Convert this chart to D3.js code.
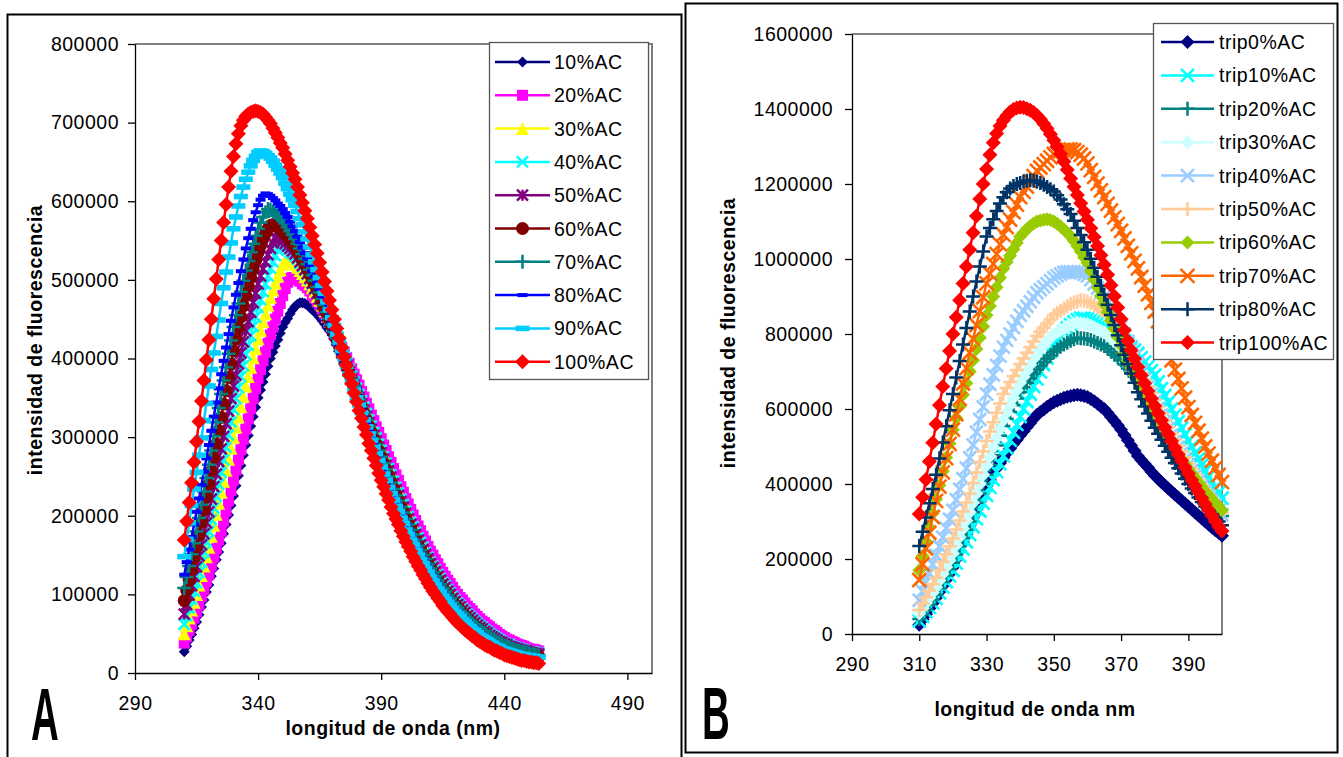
<!DOCTYPE html>
<html>
<head>
<meta charset="utf-8">
<script src="https://cdn.jsdelivr.net/npm/d3@7"></script>
<style>
body { margin: 0; background: #fff; }
text { font-family: "Liberation Sans", Arial, sans-serif; }
</style>
</head>
<body>
<script>

// ---------- panel A data (intensity in thousands) ----------
var nmA = [310,311,312,313,314,315,316,317,318,319,320,321,322,323,324,325,326,327,328,329,
330,331,332,333,334,335,336,337,338,339,340,341,342,343,344,345,346,347,348,349,
350,351,352,353,354,355,356,357,358,359,360,361,362,363,364,365,366,367,368,369,
370,371,372,373,374,375,376,377,378,379,380,381,382,383,384,385,386,387,388,389,
390,391,392,393,394,395,396,397,398,399,400,401,402,403,404,405,406,407,408,409,
410,411,412,413,414,415,416,417,418,419,420,421,422,423,424,425,426,427,428,429,
430,431,432,433,434,435,436,437,438,439,440,441,442,443,444,445,446,447,448,449,
450,451,452,453,454];

var namesA = ["10%AC","20%AC","30%AC","40%AC","50%AC","60%AC","70%AC","80%AC","90%AC","100%AC"];

var ac10 = [27,34,42,49,57,65,74,84,93,103,112,123,133,144,154,165,177,189,201,213,
225,238,251,264,277,290,302,314,326,338,350,360,370,380,390,400,408,416,424,432,
440,446,451,457,462,466,469,471,471,470,468,465,462,459,456,452,448,444,439,435,
430,424,418,412,406,400,393,386,379,372,365,358,350,343,335,328,320,313,305,298,
290,282,275,267,260,252,245,238,230,223,216,209,202,196,189,182,176,170,163,157,
151,146,140,135,129,124,119,114,110,105,100,96,92,88,84,80,77,74,70,67,
64,61,59,56,54,51,49,47,44,42,40,38,37,35,34,32,31,29,28,26,
25,24,23,22,21];
var ac20 = [38,46,54,62,70,78,87,97,106,116,125,136,147,158,169,180,193,206,219,232,
245,258,271,284,297,310,323,336,349,362,375,386,397,408,419,430,440,450,460,470,
480,489,497,502,503,502,500,498,495,493,490,486,481,477,472,468,463,457,452,446,
440,434,427,421,414,408,401,394,387,380,373,366,358,351,343,336,328,321,313,306,
298,290,283,275,268,260,252,245,237,230,222,215,208,201,194,187,181,174,168,161,
155,150,144,139,133,128,123,118,114,109,104,100,96,93,89,85,82,79,75,72,
69,66,64,61,59,56,54,52,49,47,45,43,42,40,39,37,36,35,34,32,
31,30,30,29,28];
var ac30 = [50,60,70,80,90,100,112,124,136,148,160,174,188,202,216,230,244,258,272,286,
300,313,326,339,352,365,377,389,401,413,425,436,447,457,468,478,487,496,505,513,
520,524,526,525,523,520,516,512,508,504,500,495,490,485,479,474,468,461,454,448,
441,434,426,419,411,404,396,388,380,373,365,357,349,342,334,326,318,310,303,295,
287,279,271,264,256,248,240,233,225,218,210,203,196,189,182,175,169,163,156,150,
144,139,134,128,123,118,113,109,104,100,95,91,88,84,81,77,74,71,68,65,
62,60,57,55,52,50,48,46,44,42,40,39,37,36,34,33,32,31,30,29,
28,28,27,27,26];
var ac40 = [62,73,83,94,104,115,128,141,154,167,180,195,210,225,240,255,271,287,303,319,
335,349,363,377,391,405,417,429,441,453,465,475,485,495,505,515,523,531,538,544,
543,541,538,535,533,530,526,521,517,512,507,501,495,489,483,477,470,462,455,448,
441,433,425,418,410,402,394,386,378,370,362,354,346,338,330,322,314,306,299,291,
283,275,267,260,252,244,236,229,221,214,206,199,192,186,179,172,166,160,153,147,
141,136,131,125,120,115,111,106,102,97,93,89,86,82,79,75,72,69,66,63,
60,58,55,53,50,48,46,44,42,40,38,37,36,34,33,32,31,30,29,28,
27,27,26,26,25];
var ac50 = [75,87,99,111,123,135,149,163,177,191,205,221,237,253,269,285,301,317,333,349,
365,379,393,407,421,435,447,459,471,483,495,505,514,523,532,540,547,553,552,551,
549,546,543,540,537,533,528,523,518,513,508,502,496,489,483,476,469,462,454,447,
439,431,423,415,407,399,391,383,374,366,358,350,342,334,326,318,310,302,295,287,
280,272,264,257,249,241,233,226,218,211,203,196,189,183,176,169,163,157,151,145,
139,134,129,123,118,113,109,104,100,95,91,87,84,80,77,73,70,67,64,61,
58,56,53,51,48,46,44,42,40,39,37,36,34,33,32,31,30,29,28,28,
27,26,25,25,24];
var ac60 = [92,105,118,132,146,160,176,192,208,224,240,257,274,291,308,325,342,359,376,393,
410,425,439,453,467,480,492,503,514,525,535,544,552,559,565,569,570,569,567,565,
562,558,554,550,546,542,537,531,526,520,514,507,500,494,487,480,472,464,457,449,
441,433,424,416,407,399,390,382,373,365,356,348,339,331,322,314,306,298,291,283,
275,267,259,251,243,235,227,220,212,205,197,190,183,177,170,163,157,151,146,140,
134,129,124,118,113,108,104,100,95,91,87,83,80,76,73,69,66,63,60,58,
55,53,50,48,45,43,41,39,37,36,34,33,32,30,29,28,27,26,25,24,
23,23,22,22,21];
var ac70 = [108,122,136,151,165,180,197,214,231,248,265,283,301,319,337,355,372,389,406,423,
440,455,470,485,499,512,524,535,546,556,565,573,580,586,590,589,587,585,582,579,
576,572,567,562,557,552,546,540,533,527,520,513,506,499,491,484,476,468,459,451,
443,434,426,417,409,400,391,382,374,365,356,348,339,331,322,314,306,298,291,283,
275,267,259,250,242,234,226,219,211,204,196,189,182,176,169,162,156,150,145,139,
133,128,123,118,113,108,104,99,95,90,86,83,79,76,72,69,66,63,60,58,
55,53,51,48,46,44,42,40,38,37,35,34,33,31,30,29,28,27,27,26,
25,24,24,23,22];
var ac80 = [125,141,157,173,189,205,222,239,256,273,290,308,326,344,362,380,397,414,431,448,
465,481,496,511,526,540,553,565,576,586,595,602,607,610,609,607,604,601,597,594,
590,585,580,574,568,562,555,548,541,534,527,519,511,504,496,488,479,471,462,454,
445,436,426,417,407,398,389,380,370,361,352,343,335,326,318,309,301,293,286,278,
270,262,253,245,236,228,220,213,205,198,190,183,177,170,164,157,151,145,140,134,
128,123,118,113,108,103,99,95,90,86,82,79,75,72,68,65,62,59,57,54,
51,49,47,44,42,40,38,36,34,33,31,30,29,28,27,26,25,24,23,23,
22,22,21,21,20];
var ac90 = [148,170,191,213,234,255,277,299,321,343,365,386,407,428,449,470,490,510,529,547,
565,580,594,606,618,628,637,645,652,657,662,664,663,661,658,655,651,646,641,636,
630,623,616,609,602,595,587,578,570,561,552,542,532,523,513,503,493,483,472,462,
452,442,431,421,410,400,390,380,370,360,350,341,331,322,313,304,296,287,279,270,
262,253,245,236,228,220,212,205,197,190,182,176,169,163,156,150,144,139,133,128,
122,117,112,107,103,98,94,90,86,82,78,75,72,68,65,62,59,56,54,51,
48,46,44,42,40,38,36,34,33,31,30,29,28,27,26,25,24,23,23,22,
22,21,21,20,20];
var ac100 = [169,193,217,242,268,294,320,346,372,398,424,450,476,501,526,550,573,596,618,638,
657,673,686,696,703,708,711,713,714,715,714,713,711,707,703,699,693,687,681,674,
668,660,652,644,636,628,618,608,598,588,578,567,556,545,534,522,510,498,486,474,
462,450,438,426,414,402,391,379,368,356,345,334,324,313,303,292,283,273,264,254,
245,237,228,220,211,203,196,189,181,174,167,161,155,148,142,136,131,125,120,114,
109,104,100,95,91,86,82,78,75,71,67,64,61,58,55,52,50,47,45,42,
40,38,36,34,33,31,29,28,26,25,23,22,21,20,19,18,17,16,16,15,
14,14,13,13,12];

var xTicksA = [290,340,390,440,490];
var yTicksA = [0,100,200,300,400,500,600,700,800];
var yLabelsA = ["0","100000","200000","300000","400000","500000","600000","700000","800000"];

// ---------- panel B data (intensity in thousands) ----------
var nmB = [310,311,312,313,314,315,316,317,318,319,320,321,322,323,324,325,326,327,328,329,
330,331,332,333,334,335,336,337,338,339,340,341,342,343,344,345,346,347,348,349,
350,351,352,353,354,355,356,357,358,359,360,361,362,363,364,365,366,367,368,369,
370,371,372,373,374,375,376,377,378,379,380,381,382,383,384,385,386,387,388,389,
390,391,392,393,394,395,396,397,398,399,400];

var namesB = ["trip0%AC","trip10%AC","trip20%AC","trip30%AC","trip40%AC","trip50%AC","trip60%AC","trip70%AC","trip80%AC","trip100%AC"];

var trip0 = [25,39,53,68,82,97,113,129,145,161,178,200,222,245,267,290,311,332,353,374,
395,411,427,442,456,470,483,495,507,518,530,541,552,563,574,585,592,599,606,612,
618,622,626,630,633,635,637,638,637,635,632,627,621,614,607,600,590,579,568,557,
545,531,517,503,489,475,464,454,444,433,423,414,405,397,388,380,372,364,356,348,
340,332,324,316,308,300,292,285,277,270,262];
var trip10 = [35,47,59,71,83,95,110,125,140,155,170,189,208,227,246,265,286,307,328,349,
370,391,412,433,454,475,496,517,538,559,580,600,620,640,660,680,699,718,736,753,
770,783,795,806,816,825,832,838,842,842,840,837,833,829,825,820,815,809,803,797,
790,782,774,765,757,748,737,725,713,702,690,672,654,636,618,600,583,566,549,532,
515,499,483,467,451,435,420,406,391,377,362];
var trip20 = [40,53,66,79,92,105,122,139,156,173,190,212,234,256,278,300,325,350,375,400,
425,451,477,503,529,555,574,592,610,628,645,658,670,682,694,705,715,725,734,743,
752,759,766,772,777,782,786,790,789,788,787,784,780,776,772,768,761,753,745,738,
730,719,708,697,686,675,662,649,636,623,610,596,582,568,554,540,525,510,495,480,
465,450,435,420,405,390,375,360,345,330,315];
var trip30 = [55,69,83,97,111,125,143,161,179,197,215,237,259,281,303,325,350,375,400,425,
450,474,498,522,546,570,590,610,630,650,670,686,702,718,734,750,760,770,780,790,
800,805,810,815,820,825,828,830,829,828,826,822,818,813,809,805,797,789,781,773,
765,752,739,726,713,700,684,668,652,636,620,604,588,572,556,540,524,508,492,476,
460,446,432,418,404,390,377,364,351,338,325];
var trip40 = [90,114,138,162,186,210,234,258,282,306,330,358,386,414,442,470,504,538,572,606,
640,666,691,716,741,765,783,800,817,834,850,862,874,886,898,910,918,926,934,942,
950,955,960,964,966,966,966,965,963,959,955,945,934,922,911,900,884,868,852,836,
820,800,780,760,740,720,700,680,660,640,620,602,584,566,548,530,514,498,482,466,
450,436,422,408,394,380,368,355,343,330,318];
var trip50 = [64,81,98,116,133,150,171,192,213,234,255,279,303,327,351,375,403,431,459,487,
515,540,565,590,615,640,656,672,688,704,720,735,750,765,780,795,806,817,828,839,
850,856,862,868,874,880,884,887,890,889,887,882,876,871,865,860,848,836,824,812,
800,783,766,749,732,715,697,679,661,643,625,607,589,571,553,535,519,503,487,471,
455,441,427,413,399,385,372,360,347,335,322];
var trip60 = [170,208,246,284,322,360,397,434,471,508,545,576,607,638,669,700,730,760,790,820,
850,875,900,925,950,975,992,1009,1026,1043,1060,1070,1080,1088,1095,1100,1103,1105,1106,1104,
1100,1094,1087,1079,1070,1060,1048,1034,1020,1005,990,968,946,924,902,880,858,836,814,792,
770,750,730,710,690,670,653,636,619,602,585,569,553,537,521,505,492,479,466,453,
440,428,416,404,392,380,370,360,350,340,330];
var trip70 = [144,186,228,270,312,355,393,431,469,507,545,586,627,668,709,750,787,824,861,898,
935,961,987,1013,1039,1065,1085,1105,1125,1145,1165,1179,1193,1207,1221,1235,1244,1253,1262,1271,
1280,1284,1288,1291,1292,1292,1290,1285,1278,1268,1255,1237,1219,1201,1183,1165,1147,1129,1111,1093,
1075,1055,1035,1015,995,975,952,929,906,883,860,834,808,782,756,730,705,680,655,630,
605,584,563,542,521,500,481,462,443,424,405];
var trip80 = [235,273,311,349,387,425,468,511,554,597,640,684,728,772,816,860,900,940,980,1020,
1060,1083,1106,1128,1148,1165,1178,1188,1195,1200,1203,1207,1209,1210,1209,1207,1203,1198,1192,1186,
1180,1170,1159,1146,1133,1120,1102,1083,1064,1045,1025,1001,977,953,929,905,878,851,824,797,
770,745,720,695,670,645,626,607,588,569,550,534,518,502,486,470,456,442,428,414,
400,388,376,364,352,340,330,320,310,300,290];
var trip100 = [320,365,412,460,510,560,610,660,708,755,800,845,890,935,980,1025,1070,1115,1160,1200,
1240,1278,1310,1335,1355,1370,1382,1392,1399,1403,1405,1404,1401,1397,1391,1383,1373,1361,1348,1333,
1317,1299,1280,1260,1238,1215,1193,1171,1149,1127,1105,1082,1059,1035,1010,985,958,930,901,871,
840,810,782,757,734,712,690,669,648,628,608,589,570,551,533,515,497,479,462,445,
428,411,395,379,363,347,331,316,301,287,275];

var xTicksB = [290,310,330,350,370,390];
var yTicksB = [0,200,400,600,800,1000,1200,1400,1600];
var yLabelsB = ["0","200000","400000","600000","800000","1000000","1200000","1400000","1600000"];


// SVG
var svg = d3.select("body").append("svg")
	.attr("width", 1343)
	.attr("height", 757);

svg.append("rect").attr("width", 1343).attr("height", 757).attr("fill", "#fff");

// marker shapes like excel
function markerPath(type, s) {
	var h = s / 2;
	if (type == "diamond") return "M0," + (-h) + "L" + h + ",0L0," + h + "L" + (-h) + ",0Z";
	if (type == "square") return "M" + (-h) + "," + (-h) + "h" + s + "v" + s + "h" + (-s) + "Z";
	if (type == "triangle") return "M0," + (-h) + "L" + h + "," + h + "L" + (-h) + "," + h + "Z";
	if (type == "circle") return d3.symbol(d3.symbolCircle, Math.PI * h * h)();
	if (type == "x") return "M" + (-h) + "," + (-h) + "L" + h + "," + h + "M" + (-h) + "," + h + "L" + h + "," + (-h);
	if (type == "plus") return "M" + (-h) + ",0H" + h + "M0," + (-h) + "V" + h;
	if (type == "star") return "M" + (-h) + "," + (-h) + "L" + h + "," + h + "M" + (-h) + "," + h + "L" + h + "," + (-h) + "M0," + (-h) + "V" + h;
	if (type == "dash") return "M" + (-h) + "," + (-s * 0.2) + "h" + s + "v" + (s * 0.4) + "h" + (-s) + "Z";
}
function isStroked(type) {
	return type == "x" || type == "plus" || type == "star";
}
function addMarker(sel, s) {
	sel.attr("d", markerPath(s.marker, s.size))
		.attr("fill", isStroked(s.marker) ? "none" : s.color)
		.attr("stroke", isStroked(s.marker) ? s.color : "none")
		.attr("stroke-width", 2.5);
}

var seriesA = [
	{name: namesA[0], values: ac10, color: "#000080", marker: "diamond", size: 11},
	{name: namesA[1], values: ac20, color: "#ff00ff", marker: "square", size: 11},
	{name: namesA[2], values: ac30, color: "#ffff00", marker: "triangle", size: 13},
	{name: namesA[3], values: ac40, color: "#00ffff", marker: "x", size: 11},
	{name: namesA[4], values: ac50, color: "#800080", marker: "star", size: 11},
	{name: namesA[5], values: ac60, color: "#800000", marker: "circle", size: 13},
	{name: namesA[6], values: ac70, color: "#008080", marker: "plus", size: 14},
	{name: namesA[7], values: ac80, color: "#0000ff", marker: "dash", size: 10},
	{name: namesA[8], values: ac90, color: "#00ccff", marker: "dash", size: 14},
	{name: namesA[9], values: ac100, color: "#ff0000", marker: "diamond", size: 15}
];

var seriesB = [
	{name: namesB[0], values: trip0, color: "#000080", marker: "diamond", size: 14},
	{name: namesB[1], values: trip10, color: "#00ffff", marker: "x", size: 13},
	{name: namesB[2], values: trip20, color: "#008080", marker: "plus", size: 14},
	{name: namesB[3], values: trip30, color: "#ccffff", marker: "diamond", size: 14},
	{name: namesB[4], values: trip40, color: "#99ccff", marker: "x", size: 13},
	{name: namesB[5], values: trip50, color: "#ffcc99", marker: "plus", size: 14},
	{name: namesB[6], values: trip60, color: "#99cc00", marker: "diamond", size: 14},
	{name: namesB[7], values: trip70, color: "#ff6600", marker: "x", size: 14},
	{name: namesB[8], values: trip80, color: "#003366", marker: "plus", size: 14},
	{name: namesB[9], values: trip100, color: "#ff0000", marker: "diamond", size: 15}
];

function drawPanel(p) {
	var x = d3.scaleLinear().domain(p.xDomain).range([p.left, p.right]);
	var y = d3.scaleLinear().domain(p.yDomain).range([p.bottom, p.top]);

	// grey border of the plot area (top + right)
	svg.append("path")
		.attr("d", "M" + p.left + "," + p.top + "H" + p.right + "V" + p.bottom)
		.attr("fill", "none")
		.attr("stroke", "#808080")
		.attr("stroke-width", 2);

	// series: line first, then markers on each point
	var line = d3.line().x(function (d) { return x(d.nm); }).y(function (d) { return y(d.v); });
	p.series.forEach(function (s) {
		var pts = s.values.map(function (v, i) { return {nm: p.nm[i], v: v}; });
		var g = svg.append("g");
		g.append("path").datum(pts)
			.attr("d", line)
			.attr("fill", "none")
			.attr("stroke", s.color)
			.attr("stroke-width", 2.5);
		g.selectAll("path.mk")
			.data(pts)
			.enter().append("path")
			.attr("class", "mk")
			.attr("transform", function (d) { return "translate(" + x(d.nm) + "," + y(d.v) + ")"; })
			.call(addMarker, s);
	});

	// axes
	var yAxis = d3.axisLeft(y).tickValues(p.yTicks).tickSize(7).tickSizeOuter(0).tickPadding(p.yPad)
		.tickFormat(function (d, i) { return p.yLabels[i]; });
	var xAxis = d3.axisBottom(x).tickValues(p.xTicks).tickSize(7).tickSizeOuter(0).tickPadding(16)
		.tickFormat(function (d) { return String(d); });

	var gy = svg.append("g").attr("transform", "translate(" + p.left + ",0)").call(yAxis);
	var gx = svg.append("g").attr("transform", "translate(0," + p.bottom + ")").call(xAxis);
	[gx, gy].forEach(function (g) {
		g.attr("font-family", null).attr("font-size", null);
		g.selectAll("path, line").attr("stroke", "#000").attr("stroke-width", 1.3);
		g.selectAll("text").attr("fill", "#000")
			.style("font-size", "19.5px")
			.style("letter-spacing", "0.5px");
	});

	// legend
	var lg = svg.append("g");
	lg.append("rect")
		.attr("x", p.legend.x).attr("y", p.legend.y)
		.attr("width", p.legend.w).attr("height", p.legend.h)
		.attr("fill", "#fff").attr("stroke", "#555").attr("stroke-width", 1.3);
	p.series.forEach(function (s, i) {
		var cy = p.legend.y0 + i * p.legend.step;
		lg.append("line")
			.attr("x1", p.legend.lx1).attr("x2", p.legend.lx2)
			.attr("y1", cy).attr("y2", cy)
			.attr("stroke", s.color).attr("stroke-width", 2.5);
		lg.append("path")
			.attr("transform", "translate(" + ((p.legend.lx1 + p.legend.lx2) / 2) + "," + cy + ")")
			.call(addMarker, s);
		lg.append("text")
			.attr("x", p.legend.tx).attr("y", cy + 7)
			.style("font-size", "19.5px")
			.style("letter-spacing", "0.5px")
			.text(s.name);
	});

	// axis titles
	svg.append("text")
		.attr("x", p.xTitle[0]).attr("y", p.xTitle[1])
		.attr("text-anchor", "middle")
		.style("font-size", "19.5px").style("font-weight", "bold").style("letter-spacing", "0.5px")
		.text(p.xLabel);
	svg.append("text")
		.attr("transform", "translate(" + p.yTitle[0] + "," + p.yTitle[1] + ") rotate(-90)")
		.attr("text-anchor", "middle")
		.style("font-size", "19.5px").style("font-weight", "bold").style("letter-spacing", "0.5px")
		.text("intensidad de fluorescencia");

	// big panel letter
	svg.append("text")
		.attr("transform", "translate(" + p.letterPos[0] + "," + p.letterPos[1] + ") scale(0.52,1)")
		.style("font-size", "74px").style("font-weight", "bold")
		.text(p.letter);
}

// frames round the two panels
svg.append("rect").attr("x", 7.5).attr("y", 14.5).attr("width", 674).attr("height", 780)
	.attr("fill", "none").attr("stroke", "#000").attr("stroke-width", 2);
svg.append("rect").attr("x", 685.5).attr("y", 3.5).attr("width", 652).attr("height", 749)
	.attr("fill", "none").attr("stroke", "#000").attr("stroke-width", 2);

drawPanel({
	nm: nmA, series: seriesA,
	xDomain: [290, 500], yDomain: [0, 800],
	left: 135, right: 652, top: 44, bottom: 673,
	xTicks: xTicksA, yTicks: yTicksA, yLabels: yLabelsA, yPad: 9,
	legend: {x: 489.5, y: 42.5, w: 159, h: 337, y0: 62, step: 33.3, lx1: 495, lx2: 550, tx: 554},
	xLabel: "longitud de onda (nm)", xTitle: [393, 735], yTitle: [42, 340],
	letter: "A", letterPos: [31, 740]
});

drawPanel({
	nm: nmB, series: seriesB,
	xDomain: [290, 400], yDomain: [0, 1600],
	left: 852, right: 1222, top: 34, bottom: 634,
	xTicks: xTicksB, yTicks: yTicksB, yLabels: yLabelsB, yPad: 12,
	legend: {x: 1153.5, y: 23.5, w: 180, h: 336, y0: 42, step: 33.4, lx1: 1161, lx2: 1214, tx: 1219},
	xLabel: "longitud de onda nm", xTitle: [1035, 716], yTitle: [735, 333],
	letter: "B", letterPos: [702, 739]
});

</script>
</body>
</html>
